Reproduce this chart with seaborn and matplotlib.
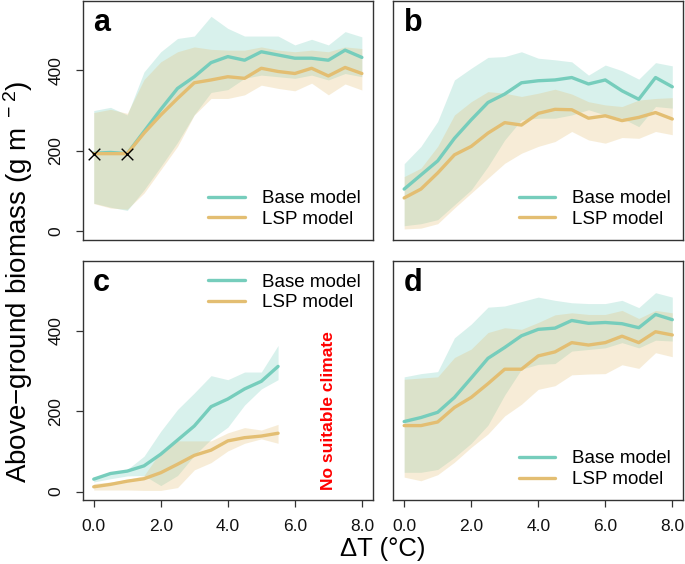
import numpy as np
import pandas as pd
import matplotlib
matplotlib.use('Agg')
import matplotlib.pyplot as plt
import seaborn as sns

# ---------------------------------------------------------------
# data
# ---------------------------------------------------------------
dT = [0.0, 0.5, 1.0, 1.5, 2.0, 2.5, 3.0, 3.5, 4.0, 4.5, 5.0, 5.5, 6.0, 6.5, 7.0, 7.5, 8.0]
dT_c = [0.0, 0.5, 1.0, 1.5, 2.0, 2.5, 3.0, 3.5, 4.0, 4.5, 5.0, 5.5]

# panel a
base_a = [194, 196, 193, 248, 303, 355, 384, 419, 434, 425, 446, 438, 430, 430, 425, 450, 432]
base_a_lo = [70, 60, 52, 103, 161, 221, 290, 345, 352, 380, 388, 384, 380, 388, 376, 392, 384]
base_a_hi = [300, 308, 289, 396, 446, 479, 485, 534, 504, 485, 485, 485, 463, 477, 463, 496, 483]
lsp_a = [193, 193, 193, 244, 289, 330, 369, 376, 384, 380, 405, 397, 392, 405, 386, 407, 392]
lsp_a_lo = [69, 58, 55, 95, 153, 211, 289, 330, 330, 339, 363, 355, 349, 368, 339, 366, 351]
lsp_a_hi = [295, 303, 293, 377, 421, 446, 458, 452, 450, 450, 458, 450, 446, 450, 446, 458, 454]
cross_x = [0.0, 1.0]
cross_y = [193, 193]

# panel b
base_b = [105, 140, 175, 231, 277, 320, 341, 369, 374, 376, 382, 366, 376, 349, 328, 382, 359]
base_b_lo = [14, 19, 29, 66, 103, 161, 227, 277, 281, 281, 289, 302, 289, 281, 260, 310, 306]
base_b_hi = [168, 211, 273, 376, 405, 432, 434, 446, 430, 426, 421, 388, 413, 399, 378, 419, 411]
lsp_b = [83, 105, 145, 190, 211, 244, 270, 264, 293, 303, 302, 281, 287, 275, 283, 295, 279]
lsp_b_lo = [6, 8, 19, 58, 95, 132, 169, 194, 211, 223, 248, 227, 219, 233, 231, 248, 240]
lsp_b_hi = [136, 157, 211, 289, 322, 347, 343, 335, 343, 353, 341, 322, 314, 310, 326, 330, 332]

# panel c
base_c = [31, 45, 51, 64, 93, 128, 163, 211, 230, 255, 274, 311]
base_c_lo = [24, 32, 39, 40, 15, 40, 90, 130, 160, 215, 255, 278]
base_c_hi = [35, 47, 55, 88, 150, 204, 245, 288, 278, 297, 297, 363]
lsp_c = [12, 18, 26, 32, 47, 68, 90, 103, 126, 134, 138, 145]
lsp_c_lo = [4, 4, 4, 3, 3, 10, 54, 72, 101, 120, 131, 120]
lsp_c_hi = [20, 24, 30, 40, 100, 126, 126, 126, 146, 159, 153, 167]

# panel d
base_d = [174, 184, 197, 234, 282, 331, 358, 387, 403, 406, 425, 418, 420, 417, 407, 440, 427]
base_d_lo = [48, 48, 55, 85, 120, 165, 240, 304, 316, 318, 349, 353, 357, 370, 357, 376, 374]
base_d_hi = [285, 293, 298, 382, 416, 458, 461, 472, 483, 475, 469, 467, 467, 475, 457, 494, 483]
lsp_d = [164, 164, 173, 209, 234, 268, 304, 304, 337, 347, 370, 364, 370, 386, 370, 397, 389]
lsp_d_lo = [36, 27, 42, 73, 110, 143, 188, 217, 254, 263, 290, 292, 293, 315, 306, 345, 335]
lsp_d_hi = [279, 282, 285, 333, 354, 395, 407, 403, 420, 439, 444, 440, 440, 450, 430, 450, 444]

x_ticks = [0, 2, 4, 6, 8]
x_ticklabels = ['0.0', '2.0', '4.0', '6.0', '8.0']
y_ticks = [0, 200, 400]
y_ticklabels = ['0', '200', '400']

# ---------------------------------------------------------------
# style
# ---------------------------------------------------------------
sns.set_style('ticks')
plt.rcParams['font.family'] = ['Liberation Sans', 'DejaVu Sans']
plt.rcParams['mathtext.fontset'] = 'custom'
plt.rcParams['mathtext.rm'] = 'Liberation Sans'
plt.rcParams['mathtext.default'] = 'regular'
plt.rcParams['text.color'] = 'black'

BASE = '#76CDBC'
LSP = '#E3BE72'
EDGE = '#333333'

panels = [
    ('a', dT, base_a, base_a_lo, base_a_hi, lsp_a, lsp_a_lo, lsp_a_hi, 'lower right'),
    ('b', dT, base_b, base_b_lo, base_b_hi, lsp_b, lsp_b_lo, lsp_b_hi, 'lower right'),
    ('c', dT_c, base_c, base_c_lo, base_c_hi, lsp_c, lsp_c_lo, lsp_c_hi, 'upper right'),
    ('d', dT, base_d, base_d_lo, base_d_hi, lsp_d, lsp_d_lo, lsp_d_hi, 'lower right'),
]

fig, axes = plt.subplots(2, 2, figsize=(6.85, 5.64), dpi=100)
fig.subplots_adjust(left=0.1212, right=0.9971, top=0.9982, bottom=0.1126,
                    wspace=0.072, hspace=0.088)

for ax, (tag, x, b, b_lo, b_hi, l, l_lo, l_hi, leg_loc) in zip(axes.flat, panels):
    df = pd.DataFrame({'dT': x, 'base': b, 'lsp': l})

    ax.fill_between(x, b_lo, b_hi, color=BASE, alpha=0.28, lw=0)
    ax.fill_between(x, l_lo, l_hi, color=LSP, alpha=0.28, lw=0)
    sns.lineplot(data=df, x='dT', y='base', color=BASE, lw=2.4, ax=ax, label='Base model')
    sns.lineplot(data=df, x='dT', y='lsp', color=LSP, lw=2.4, ax=ax, label='LSP model')

    ax.set_xlim(-0.32, 8.32)
    ax.set_ylim(-22, 572)
    ax.set_xlabel('')
    ax.set_ylabel('')

    for sp in ax.spines.values():
        sp.set_visible(True)
        sp.set_color(EDGE)
        sp.set_linewidth(1.0)

    ax.tick_params(length=5, width=0.9, color=EDGE, labelsize=12.5, labelcolor='#111111')
    if tag in ('c', 'd'):
        ax.set_xticks(x_ticks)
        ax.set_xticklabels(x_ticklabels)
        ax.tick_params(axis='x', pad=8)
    else:
        ax.set_xticks([])
    if tag in ('a', 'c'):
        ax.set_yticks(y_ticks)
        ax.set_yticklabels(y_ticklabels, rotation=90, va='center')
        ax.tick_params(axis='y', pad=9)
    else:
        ax.set_yticks([])

    ax.text(0.035, 0.876, tag, transform=ax.transAxes, fontsize=22,
            fontweight='bold', ha='left', va='baseline', color='black')

    ax.legend(loc=leg_loc, frameon=False, fontsize=13.5, handlelength=1.95,
              handletextpad=0.9, labelspacing=0.2, borderaxespad=0.25)

# crosses on panel a
axes[0, 0].scatter(cross_x, cross_y, marker='x', s=70, color='black', lw=1.0, zorder=5)

# panel c note
axes[1, 0].text(7.0, 4, 'No suitable climate', color='#FF0000', fontsize=12.5,
                fontweight='bold', rotation=90, ha='center', va='bottom')

fig.text(0.026, 0.5, 'Above\u2212ground biomass (g m$^{\\ -2}$)', rotation=90,
         ha='center', va='center', fontsize=20)
fig.text(0.559, 0.026, '\u0394T (\u00b0C)', ha='center', va='center', fontsize=18.5)

plt.savefig('out.png', dpi=100)
plt.close()
